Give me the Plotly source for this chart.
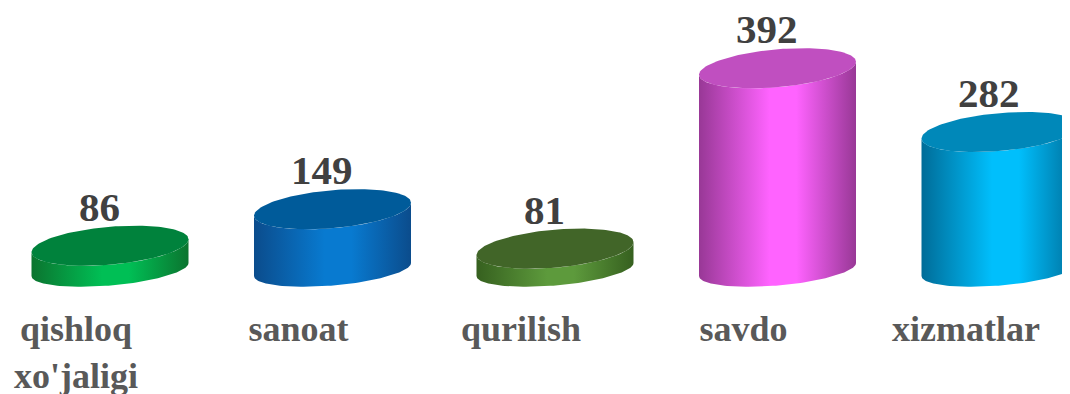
import numpy as np
import plotly.graph_objects as go

# data
categories = ["qishloq<br>xo'jaligi", "sanoat", "qurilish", "savdo", "xizmatlar"]
values = [86, 149, 81, 392, 282]

# cylinder colours: (dark edge, bright centre, top)
colors = [
    ("#0b742f", "#00bf55", "#00823c"),
    ("#0b4c8c", "#087ad0", "#005b9a"),
    ("#36601f", "#5d9a3c", "#416528"),
    ("#983896", "#ff63ff", "#c04fc0"),
    ("#006c98", "#00bffc", "#0088b9"),
]

W, H = 1070, 394
MB = 102          # page body has an 8px margin, so everything is laid out 8px up/left
BASE = 45         # value at the floor of the cylinders
PX_X = 222.5      # pixels per category
PX_Y = 0.58       # pixels per value unit
X0_PX = 102       # pixel of the first category centre
BASE_PX = 261.5   # pixel of the floor centre

X_MIN = -X0_PX / PX_X
X_MAX = X_MIN + W / PX_X
Y_MAX = BASE + BASE_PX / PX_Y
Y_MIN = Y_MAX - (H - MB) / PX_Y

RX = 78.5 / PX_X
B_TOP = 19 / PX_Y
B_BOT = 16 / PX_Y
SHEAR = 6.5 / PX_Y


def ellipse(cx, cy, b, t):
    return cx + RX * np.cos(t), cy + b * np.sin(t) + SHEAR * np.cos(t)


fig = go.Figure()

for i, v in enumerate(values):
    dark, bright, top = colors[i]
    t = np.linspace(np.pi, 2 * np.pi, 80)
    bx, by = ellipse(i, BASE, B_BOT, t)
    tx, ty = ellipse(i, v, B_TOP, t[::-1])
    fig.add_trace(go.Scatter(
        x=np.concatenate([bx, tx]), y=np.concatenate([by, ty]),
        mode="lines", fill="toself", line=dict(width=0),
        fillgradient=dict(type="horizontal", colorscale=[
            [0, dark], [0.45, bright], [0.62, bright], [1, dark]]),
        hoverinfo="skip", showlegend=False,
    ))
    tt = np.linspace(0, 2 * np.pi, 160)
    ex, ey = ellipse(i, v, B_TOP, tt)
    fig.add_trace(go.Scatter(
        x=ex, y=ey, mode="lines", fill="toself", line=dict(width=0),
        fillcolor=top, hoverinfo="skip", showlegend=False,
    ))
    fig.add_annotation(
        x=i, y=v, text=str(v), showarrow=False, yshift=39, xshift=-11, borderpad=0,
        font=dict(family="Liberation Serif", size=41, color="#404040", weight="bold"),
    )

fig.update_layout(
    width=W, height=H,
    margin=dict(l=0, r=0, t=0, b=MB, autoexpand=False),
    paper_bgcolor="white", plot_bgcolor="white",
    xaxis=dict(range=[X_MIN, X_MAX], showgrid=False, zeroline=False, showline=False,
               automargin=False,
               tickvals=list(range(len(categories))), ticktext=categories,
               ticklabelshift=-34, ticklabelstandoff=4,
               tickfont=dict(family="Liberation Serif", size=36, color="#595959", weight="bold")),
    yaxis=dict(range=[Y_MIN, Y_MAX], visible=False),
)

fig.write_html("out.html")
